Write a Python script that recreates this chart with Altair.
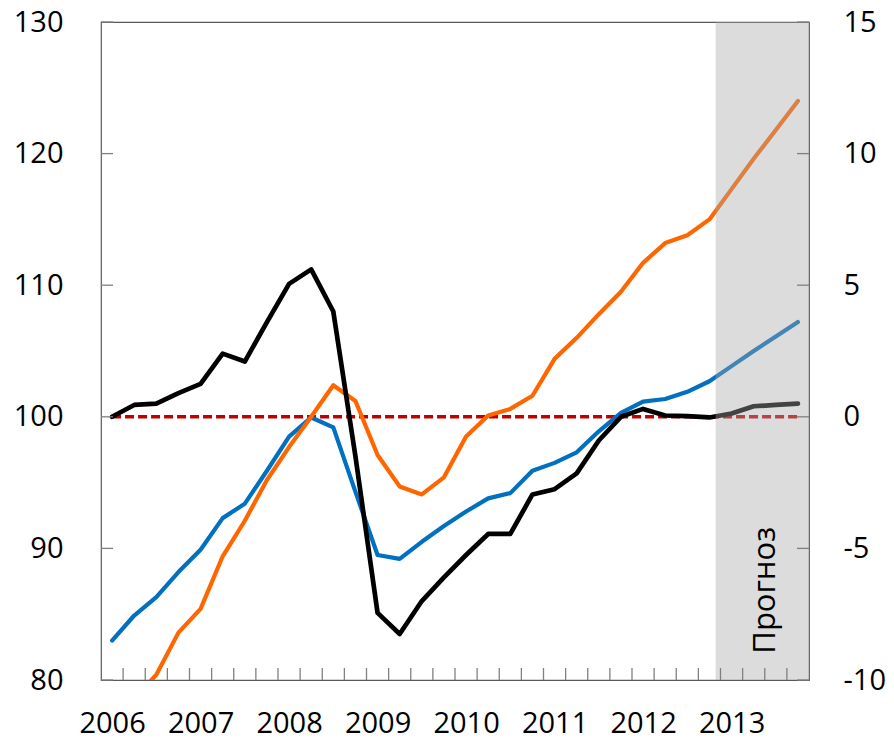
import altair as alt
import pandas as pd

# ---------------- data ----------------
years = ["2006", "2007", "2008", "2009", "2010", "2011", "2012", "2013"]
quarters = [f"{y} Q{q}" for y in years for q in range(1, 5)]

black = [100.0, 100.9, 101.0, 101.8,
         102.5, 104.8, 104.2, 107.2,
         110.1, 111.2, 108.0, 97.0,
         85.1, 83.5, 86.0, 87.8,
         89.5, 91.1, 91.1, 94.1,
         94.5, 95.7, 98.2, 100.0,
         100.6, 100.1, 100.05, 99.95,
         100.25, 100.8, 100.9, 101.0]
blue = [83.0, 84.9, 86.3, 88.2,
        89.9, 92.3, 93.4, 95.9,
        98.5, 99.95, 99.2, 94.3,
        89.5, 89.2, 90.5, 91.7,
        92.8, 93.8, 94.2, 95.9,
        96.5, 97.3, 98.9, 100.3,
        101.15, 101.35, 101.9, 102.7,
        103.85, 105.0, 106.1, 107.2]
orange = [77.0, 78.6, 80.4, 83.6,
          85.4, 89.4, 92.1, 95.2,
          97.7, 100.0, 102.4, 101.2,
          97.1, 94.7, 94.1, 95.4,
          98.5, 100.1, 100.6, 101.6,
          104.4, 106.0, 107.8, 109.5,
          111.7, 113.2, 113.8, 115.0,
          117.3, 119.6, 121.8, 124.0]
baseline_value = 100
left_ticks = [80, 90, 100, 110, 120, 130]
right_ticks = [-10, -5, 0, 5, 10, 15]
forecast_label = "Прогноз"
forecast_start = 27.28  # quarter index where the forecast shading begins

# ---------------- layout ----------------
W, H = 708, 658
FONT = "Open Sans"
TICK_COLOR = "#808080"

n = len(quarters)
xscale = alt.Scale(domain=[-0.5, n - 0.5], nice=False, zero=False)
yscale = alt.Scale(domain=[left_ticks[0], left_ticks[-1]], nice=False, zero=False)
rscale = alt.Scale(domain=[right_ticks[0], right_ticks[-1]], nice=False, zero=False)

label_array = "[" + ",".join(f"'{y}'" for y in years) + "]"
xaxis = alt.Axis(values=list(range(0, n, 4)), labelExpr=f"{label_array}[datum.value/4]",
                 title=None, orient="bottom", labelPadding=52, labelBaseline="alphabetic",
                 labelAlign="center", labelFlush=False, labelOverlap=False,
                 domain=False, ticks=False, tickSize=0, grid=False)
yaxis = alt.Axis(values=left_ticks, title=None, orient="left", labelPadding=38,
                 domain=False, ticks=False, tickSize=0, grid=False,
                 labelOverlap=False, labelFlush=False)
raxis = alt.Axis(values=right_ticks, title=None, orient="right", labelPadding=34,
                 labelExpr="'' + datum.value",
                 domain=False, ticks=False, tickSize=0, grid=False,
                 labelOverlap=False, labelFlush=False)

X = lambda f: alt.X(f, scale=xscale, axis=xaxis)
Y = lambda f: alt.Y(f, scale=yscale, axis=yaxis)

# reference dashed line at 100
base_df = pd.DataFrame({"t0": [0], "t1": [n - 1], "v": [baseline_value]})
ref = alt.Chart(base_df).mark_rule(color="#C00000", strokeWidth=3.5, strokeDash=[9, 4]).encode(
    x=X("t0:Q"), x2="t1:Q", y=Y("v:Q"))

layers = [ref]
for vals, col, w in [(blue, "#0070C0", 4.2), (orange, "#FF6600", 4.2), (black, "#000000", 4.7)]:
    df = pd.DataFrame({"t": list(range(n)), "quarter": quarters, "v": vals})
    layers.append(
        alt.Chart(df).mark_line(color=col, strokeWidth=w, clip=True,
                                strokeJoin="round", strokeCap="round").encode(
            x=X("t:Q"), y=Y("v:Q"))
    )

# forecast shading (semi-transparent overlay over the lines)
shade_df = pd.DataFrame({"t": [forecast_start]})
overlay = alt.Chart(shade_df).mark_rect(color="#a8a8a8", opacity=0.4).encode(
    x=X("t:Q"), x2=alt.value(W), y=alt.value(0), y2=alt.value(H))
layers.append(overlay)

txt_df = pd.DataFrame({"t": [29.96], "v": [82.0], "label": [forecast_label]})
txt = alt.Chart(txt_df).mark_text(angle=270, align="left", baseline="alphabetic",
                                  font=FONT, fontSize=31, color="black").encode(
    x=X("t:Q"), y=Y("v:Q"), text="label:N")
layers.append(txt)

# inward ticks
lt = alt.Chart(pd.DataFrame({"v": left_ticks})).mark_rule(color=TICK_COLOR, strokeWidth=1.3).encode(
    y=Y("v:Q"), x=alt.value(0), x2=alt.value(12))
bt = alt.Chart(pd.DataFrame({"t": [i + 0.5 for i in range(n - 1)]})).mark_rule(
    color=TICK_COLOR, strokeWidth=1.3).encode(
    x=X("t:Q"), y=alt.value(H), y2=alt.value(H - 12))
layers += [lt, bt]

left_group = alt.layer(*layers)

rt = alt.Chart(pd.DataFrame({"r": right_ticks})).mark_rule(color=TICK_COLOR, strokeWidth=1.3).encode(
    y=alt.Y("r:Q", scale=rscale, axis=raxis), x=alt.value(W), x2=alt.value(W - 12))

chart = (
    alt.layer(left_group, rt)
    .resolve_scale(y="independent")
    .properties(width=W, height=H,
                padding={"left": 93, "top": 14, "right": 77, "bottom": 60},
                autosize=alt.AutoSizeParams(type="none"))
    .configure_view(stroke="#595959", strokeWidth=1.2)
    .configure_axis(labelFont=FONT, labelFontSize=29, labelColor="black")
)

chart.save("out.html", embed_options={"renderer": "svg", "actions": False})
